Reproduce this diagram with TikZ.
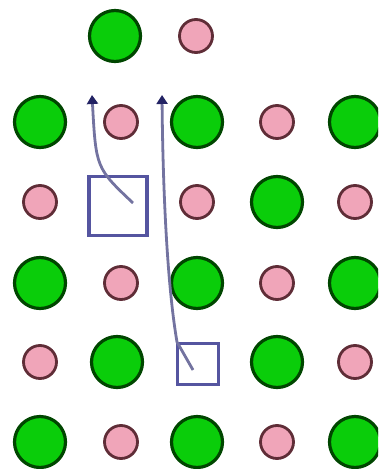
\documentclass[tikz,border=0pt]{standalone}
\usepackage{tikz}
\usetikzlibrary{arrows.meta}
\definecolor{atomGreen}{RGB}{10, 205, 10}
\definecolor{edgeGreen}{RGB}{0, 70, 0}
\definecolor{atomPink}{RGB}{240, 165, 185}
\definecolor{edgePink}{RGB}{95, 45, 55}
\definecolor{boxPurple}{RGB}{85, 85, 160}
\definecolor{pathGray}{RGB}{115, 115, 160}
\definecolor{tipNavy}{RGB}{35, 35, 100}

\begin{document}
\begin{tikzpicture}[x=1pt, y=-1pt,
    big/.style={circle, draw=edgeGreen, fill=atomGreen, line width=3.2pt, minimum size=51pt, inner sep=0pt},
    small/.style={circle, draw=edgePink, fill=atomPink, line width=2.8pt, minimum size=33pt, inner sep=0pt},
    cell/.style={draw=boxPurple, line width=3.5pt, inner sep=0pt},
    jump/.style={draw=pathGray, line width=2.8pt, -{Triangle[length=9pt, width=11pt, color=tipNavy]}}]
        \useasboundingbox (0,0) rectangle (378,469);
        \clip (0,0) rectangle (378,469);
        % top row
        \node[big] (g01) at (115,36) {};
        \node[small] (p02) at (196,36) {};
        % row 1
        \node[big] (g10) at (40,122) {};
        \node[small] (p11) at (121,122) {};
        \node[big] (g12) at (197,122) {};
        \node[small] (p13) at (277,122) {};
        \node[big] (g14) at (355,122) {};
        % row 2
        \node[small] (p20) at (40,202) {};
        \node[small] (p22) at (197,202) {};
        \node[big] (g23) at (277,202) {};
        \node[small] (p24) at (355,202) {};
        % row 3
        \node[big] (g30) at (40,283) {};
        \node[small] (p31) at (121,283) {};
        \node[big] (g32) at (197,283) {};
        \node[small] (p33) at (277,283) {};
        \node[big] (g34) at (355,283) {};
        % row 4
        \node[small] (p40) at (40,362) {};
        \node[big] (g41) at (117,362) {};
        \node[big] (g43) at (277,362) {};
        \node[small] (p44) at (355,362) {};
        % row 5
        \node[big] (g50) at (40,442) {};
        \node[small] (p51) at (121,442) {};
        \node[big] (g52) at (197,442) {};
        \node[small] (p53) at (277,442) {};
        \node[big] (g54) at (355,442) {};
        % vacancies
        \node[cell, minimum width=58pt, minimum height=59pt] (vacA) at (118,206) {};
        \node[cell, minimum width=41pt, minimum height=41pt] (vacB) at (198,364) {};
        % jumps
        \coordinate (startA) at (133,203);
        \coordinate (endA) at (92,95);
        \coordinate (startB) at (193,370);
        \coordinate (endB) at (162,95);
        \draw[jump] (startA) .. controls (96,168) .. (endA);
        \draw[jump] (startB) -- (177,342) .. controls (168,290) and (163,200) .. (endB);
      \end{tikzpicture}
\end{document}
